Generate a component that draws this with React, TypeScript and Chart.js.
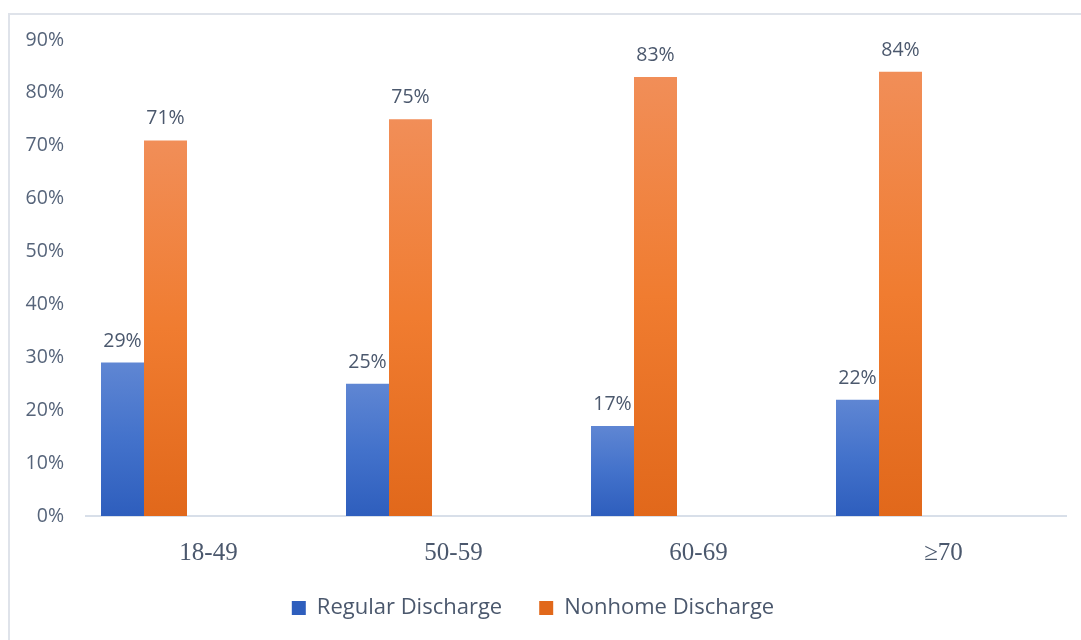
import { useEffect, useRef } from "react";
import { Chart, registerables } from "chart.js";

Chart.register(...registerables);

// Age bands on the category axis
const ageGroups = ["18-49", "50-59", "60-69", "≥70"];
// Share of patients (%) per discharge type
const regularDischarge = [29, 25, 17, 22];
const nonhomeDischarge = [71, 75, 83, 84];
// Unused series slots that keep the bar pair on the left of each band
const spareSlot: (number | null)[] = [null, null, null, null];

const Y_MAX = 90;
const Y_STEP = 10;

const BLUE = ["#5f86d3", "#4372cb", "#2e5ebd"];
const ORANGE = ["#f18e58", "#f07c30", "#e1681b"];

const TEXT = "#4b586d";
const AXIS_TEXT = "#56647a";

function barGradient(stops: string[]) {
  return (c: any) => {
    if (c.type !== "data" || c.raw == null) return stops[1];
    const y = c.chart.scales.y;
    if (!y) return stops[1];
    const top = y.getPixelForValue(c.raw);
    const bottom = y.getPixelForValue(0);
    if (!isFinite(top) || !isFinite(bottom) || top === bottom) return stops[1];
    const g = c.chart.ctx.createLinearGradient(0, top, 0, bottom);
    g.addColorStop(0, stops[0]);
    g.addColorStop(0.5, stops[1]);
    g.addColorStop(1, stops[2]);
    return g;
  };
}

// Percent labels above each visible bar
const valueLabels = {
  id: "valueLabels",
  afterDatasetsDraw(chart: any) {
    const ctx = chart.ctx;
    ctx.save();
    ctx.font = '19.5px "Open Sans"';
    ctx.fillStyle = TEXT;
    ctx.textAlign = "center";
    ctx.textBaseline = "alphabetic";
    [0, 1].forEach((di) => {
      const meta = chart.getDatasetMeta(di);
      const data = chart.data.datasets[di].data;
      meta.data.forEach((el: any, i: number) => {
        const v = data[i];
        if (v == null) return;
        ctx.fillText(`${v}%`, el.x, el.y - 16);
      });
    });
    ctx.restore();
  },
};

export default function App() {
  const canvasRef = useRef<HTMLCanvasElement | null>(null);

  useEffect(() => {
    if (!canvasRef.current) return;
    const spare = (label: string) => ({
      label,
      data: spareSlot,
      backgroundColor: "rgba(0,0,0,0)",
    });
    const chart = new Chart(canvasRef.current, {
      type: "bar",
      data: {
        labels: ageGroups,
        datasets: [
          {
            label: "Regular Discharge",
            data: regularDischarge,
            backgroundColor: barGradient(BLUE) as any,
          },
          {
            label: "Nonhome Discharge",
            data: nonhomeDischarge,
            backgroundColor: barGradient(ORANGE) as any,
          },
          spare("spare1"),
          spare("spare2"),
          spare("spare3"),
        ],
      },
      options: {
        responsive: false,
        animation: false,
        devicePixelRatio: 1,
        datasets: {
          bar: {
            categoryPercentage: 215 / 245,
            barPercentage: 1,
          },
        },
        layout: {
          padding: { left: 0, right: 15, top: 40, bottom: 11 },
        },
        scales: {
          x: {
            grid: { display: false, drawTicks: false },
            border: { display: true, color: "#d8dfe9", width: 2 },
            ticks: {
              color: TEXT,
              padding: 22,
              font: { family: '"Liberation Serif", serif', size: 25 },
            },
            afterFit(scale: any) {
              scale.height = 44;
            },
          },
          y: {
            min: 0,
            max: Y_MAX,
            grid: { display: false, drawTicks: false },
            border: { display: false },
            ticks: {
              stepSize: Y_STEP,
              color: AXIS_TEXT,
              padding: 22,
              font: { family: '"Open Sans"', size: 19.5 },
              callback: (v: any) => `${v}%`,
            },
            afterFit(scale: any) {
              scale.width = 86;
            },
          },
        },
        plugins: {
          legend: {
            position: "bottom",
            labels: {
              boxWidth: 14,
              boxHeight: 14,
              padding: 37,
              color: TEXT,
              font: { family: '"Open Sans"', size: 22 },
              filter: (item: any) => item.datasetIndex < 2,
            },
          },
          tooltip: { enabled: false },
        },
      },
      plugins: [valueLabels],
    });
    return () => chart.destroy();
  }, []);

  return (
    <div
      style={{
        position: "fixed",
        inset: 0,
        overflow: "hidden",
        background: "#ffffff",
      }}
    >
      <div
        style={{
          position: "absolute",
          left: 8,
          top: 13,
          width: 1100,
          height: 660,
          border: "2px solid #dfe3ea",
          boxSizing: "border-box",
        }}
      />
      <canvas
        ref={canvasRef}
        width={1081}
        height={640}
        style={{ position: "absolute", left: 0, top: 0, width: 1081, height: 640 }}
      />
    </div>
  );
}
